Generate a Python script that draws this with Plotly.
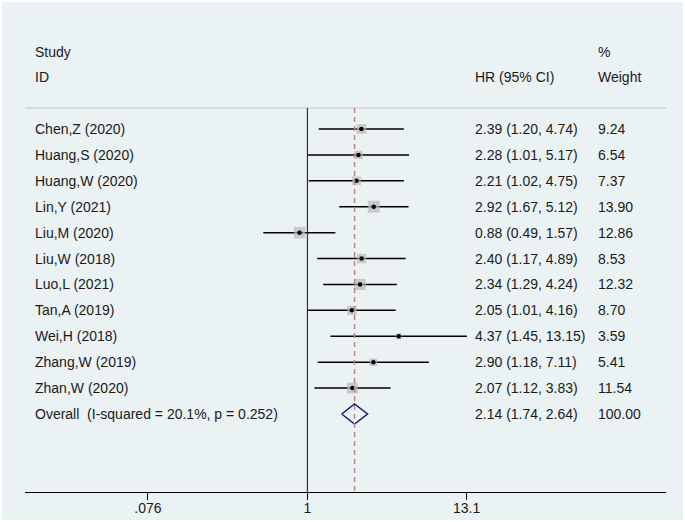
import plotly.graph_objects as go
import numpy as np

studies = ["Chen,Z (2020)", "Huang,S (2020)", "Huang,W (2020)", "Lin,Y (2021)",
           "Liu,M (2020)", "Liu,W (2018)", "Luo,L (2021)", "Tan,A (2019)",
           "Wei,H (2018)", "Zhang,W (2019)", "Zhan,W (2020)"]
hr = [2.39, 2.28, 2.21, 2.92, 0.88, 2.40, 2.34, 2.05, 4.37, 2.90, 2.07]
ci_low = [1.20, 1.01, 1.02, 1.67, 0.49, 1.17, 1.29, 1.01, 1.45, 1.18, 1.12]
ci_high = [4.74, 5.17, 4.75, 5.12, 1.57, 4.89, 4.24, 4.16, 13.15, 7.11, 3.83]
weights = [9.24, 6.54, 7.37, 13.90, 12.86, 8.53, 12.32, 8.70, 3.59, 5.41, 11.54]

overall_label = "Overall  (I-squared = 20.1%, p = 0.252)"
overall_hr = 2.14
overall_low = 1.74
overall_high = 2.64
overall_weight = 100.00

tick_vals = [0.076, 1, 13.1]
tick_text = [".076", "1", "13.1"]

FONT = "Liberation Sans, Arial, Helvetica, sans-serif"
FS = 14
TXT = "#1a1a1a"
rows = list(range(len(studies)))
overall_row = len(studies)

fig = go.Figure()

# CI lines
xs, ys = [], []
for r, lo, hi in zip(rows, ci_low, ci_high):
    xs += [lo, hi, None]
    ys += [r, r, None]
fig.add_trace(go.Scatter(x=xs, y=ys, mode="lines",
                         line=dict(color="black", width=1.5),
                         hoverinfo="skip", showlegend=False))

# weight squares
fig.add_trace(go.Scatter(x=hr, y=rows, mode="markers",
                         marker=dict(symbol="square", color="#b8b8b8",
                                     size=[3.2 * np.sqrt(w) for w in weights],
                                     line=dict(width=0)),
                         showlegend=False))
# centre dots
fig.add_trace(go.Scatter(x=hr, y=rows, mode="markers",
                         marker=dict(symbol="circle", color="black", size=4.5),
                         showlegend=False))

# overall diamond
h = 0.39
fig.add_trace(go.Scatter(x=[overall_low, overall_hr, overall_high, overall_hr, overall_low],
                         y=[overall_row, overall_row - h, overall_row, overall_row + h, overall_row],
                         mode="lines", line=dict(color="#1c1c7c", width=1.5),
                         showlegend=False, hoverinfo="skip"))

y_top = -3.705
y_bot = 14.01
y_sep = -0.81

shapes = [
    dict(type="rect", xref="paper", yref="paper", x0=-0.0359, x1=1.0265, y0=-0.061, y1=1.0675,
         fillcolor="#eaf2f3", line=dict(width=0), layer="below"),
    dict(type="line", xref="paper", yref="y", x0=0, x1=1, y0=y_sep, y1=y_sep,
         line=dict(color="#c4c4c4", width=1.2)),
    dict(type="line", xref="x", yref="y", x0=1, x1=1, y0=y_sep, y1=y_bot,
         line=dict(color="#333333", width=1.2)),
    dict(type="line", xref="x", yref="y", x0=overall_hr, x1=overall_hr, y0=y_sep, y1=y_bot,
         line=dict(color="#c08282", width=1.5, dash="5px,4px")),
]

annotations = []
def txt(x, y, s):
    annotations.append(dict(x=x, y=y, xref="paper", yref="y", text=s, showarrow=False,
                            xanchor="left", yanchor="middle", xshift=-2,
                            font=dict(family=FONT, size=FS, color=TXT)))

x_study, x_hr, x_w = 0.0156, 0.702, 0.894
txt(x_study, -2.97, "Study")
txt(x_study, -2.0, "ID")
txt(x_hr, -2.0, "HR (95% CI)")
txt(x_w, -2.97, "%")
txt(x_w, -2.0, "Weight")
for r, s, e, lo, hi, w in zip(rows, studies, hr, ci_low, ci_high, weights):
    txt(x_study, r, s)
    txt(x_hr, r, f"{e:.2f} ({lo:.2f}, {hi:.2f})")
    txt(x_w, r, f"{w:.2f}")
txt(x_study, overall_row, overall_label)
txt(x_hr, overall_row, f"{overall_hr:.2f} ({overall_low:.2f}, {overall_high:.2f})")
txt(x_w, overall_row, f"{overall_weight:.2f}")

fig.update_layout(
    width=685, height=522, autosize=False,
    margin=dict(l=25, r=19, t=33, b=30),
    paper_bgcolor="white", plot_bgcolor="white",
    shapes=shapes, annotations=annotations,
    font=dict(family=FONT, size=FS, color=TXT),
    xaxis=dict(type="log", range=[-1.982, 2.516], showgrid=False, zeroline=False,
               automargin=False,
               showline=True, linecolor="black", linewidth=1.2,
               ticks="outside", ticklen=7, tickcolor="black", tickwidth=1.2,
               ticklabelstandoff=-4,
               tickvals=tick_vals, ticktext=tick_text,
               tickfont=dict(family=FONT, size=FS, color=TXT)),
    yaxis=dict(range=[y_bot, y_top], visible=False, showgrid=False, zeroline=False,
               automargin=False),
    showlegend=False,
)

fig.write_html("out.html", config={"displayModeBar": False, "responsive": False},
               post_script="document.body.style.margin='0';document.body.style.overflow='hidden';")
